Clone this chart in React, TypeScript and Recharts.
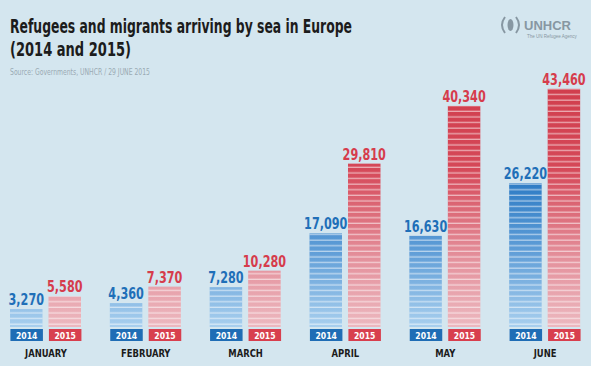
import React from 'react';
import { BarChart, Bar, XAxis, YAxis, LabelList } from 'recharts';

const months = ['JANUARY', 'FEBRUARY', 'MARCH', 'APRIL', 'MAY', 'JUNE'];
const arrivals2014 = [3270, 4360, 7280, 17090, 16630, 26220];
const arrivals2015 = [5580, 7370, 10280, 29810, 40340, 43460];
const years = ['2014', '2015'];

const chartData = months.map((m, i) => ({
  month: m,
  y2014: arrivals2014[i],
  y2015: arrivals2015[i],
}));

const BAR_SIZE = 32.5;
const BAR_GAP = 6;
const BLUE = '#1f6db5';
const RED = '#d83f4e';
const FONT = "'Liberation Sans Narrow', 'DejaVu Sans Condensed', 'Liberation Sans', sans-serif";

const fmt = (v: number) => v.toLocaleString('en-US');

const StripedBar = (fillId: string) => (props: any) => {
  const { x, y, width, height } = props;
  if (!height || height <= 0) return null;
  return (
    <g>
      <rect x={x} y={y} width={width} height={height} fill={`url(#${fillId})`} />
      <rect x={x} y={y} width={width} height={height} fill="url(#stripes)" />
    </g>
  );
};

// narrow the digits the way the poster's condensed face does
const ValueLabel = (color: string) => (props: any) => {
  const { x, y, width, value } = props;
  return (
    <text
      transform={`translate(${x + width / 2},${y - 4}) scale(0.78,1)`}
      textAnchor="middle"
      fill={color}
      fontFamily={FONT}
      fontWeight="bold"
      fontSize={16}
    >
      {fmt(value)}
    </text>
  );
};

const MonthTick = (props: any) => {
  const { x, y, payload } = props;
  const colors = [BLUE, RED];
  const starts = [x - BAR_GAP / 2 - BAR_SIZE, x + BAR_GAP / 2];
  return (
    <g>
      {years.map((yr, i) => (
        <g key={yr}>
          <rect x={starts[i]} y={y + 2} width={BAR_SIZE} height={12} fill={colors[i]} />
          <text
            transform={`translate(${starts[i] + BAR_SIZE / 2},${y + 11.8}) scale(0.9,1)`}
            textAnchor="middle"
            fill="#fff"
            fontFamily={FONT}
            fontWeight="bold"
            fontSize={9.5}
          >
            {yr}
          </text>
        </g>
      ))}
      <text
        transform={`translate(${x},${y + 30}) scale(0.85,1)`}
        textAnchor="middle"
        fill="#1b1b1b"
        fontFamily={FONT}
        fontWeight="bold"
        fontSize={11}
      >
        {payload.value}
      </text>
    </g>
  );
};

export default function App() {
  return (
    <div style={{ width: 591, height: 366, position: 'relative', overflow: 'hidden', background: '#d4e6ef' }}>
      <style>{`body{margin:0}`}</style>
      <div style={{ position: 'absolute', left: -4, top: 0 }}>
        <BarChart
          width={595}
          height={366}
          data={chartData}
          margin={{ top: 53, right: -4, bottom: 0, left: 0 }}
          barSize={BAR_SIZE}
          barGap={BAR_GAP}
        >
          <defs>
            <linearGradient id="grad2014" gradientUnits="userSpaceOnUse" x1="0" y1="53" x2="0" y2="327">
              <stop offset="0" stopColor="#1d62ad" />
              <stop offset="0.45" stopColor="#2a79c3" />
              <stop offset="0.72" stopColor="#5f9dd7" />
              <stop offset="1" stopColor="#a8cfee" />
            </linearGradient>
            <linearGradient id="grad2015" gradientUnits="userSpaceOnUse" x1="0" y1="53" x2="0" y2="327">
              <stop offset="0" stopColor="#cf3a49" />
              <stop offset="0.42" stopColor="#d54858" />
              <stop offset="0.75" stopColor="#e4919c" />
              <stop offset="1" stopColor="#ecb8bf" />
            </linearGradient>
            <pattern id="stripes" patternUnits="userSpaceOnUse" width={10} height={5.6}>
              <rect x={0} y={4.3} width={10} height={1.3} fill="#ffffff" fillOpacity={0.55} />
            </pattern>
          </defs>
          <XAxis
            dataKey="month"
            axisLine={false}
            tickLine={false}
            tickSize={0}
            tickMargin={0}
            height={39}
            interval={0}
            tick={<MonthTick />}
          />
          <YAxis hide domain={[0, 50000]} />
          <Bar dataKey="y2014" shape={StripedBar('grad2014')} isAnimationActive={false}>
            <LabelList dataKey="y2014" content={ValueLabel('#1f6fb8')} />
          </Bar>
          <Bar dataKey="y2015" shape={StripedBar('grad2015')} isAnimationActive={false}>
            <LabelList dataKey="y2015" content={ValueLabel('#d63c4c')} />
          </Bar>
        </BarChart>
      </div>
      <svg width={591} height={80} style={{ position: 'absolute', left: 0, top: 0, pointerEvents: 'none' }}>
        <text x={10} y={32.5} fontFamily={FONT} fontWeight="bold" fontSize={20} fill="#1c1c1c"
          textLength={342} lengthAdjust="spacingAndGlyphs">
          Refugees and migrants arriving by sea in Europe
        </text>
        <text x={10} y={56} fontFamily={FONT} fontWeight="bold" fontSize={20} fill="#1c1c1c"
          textLength={121} lengthAdjust="spacingAndGlyphs">
          (2014 and 2015)
        </text>
        <text x={10} y={75} fontFamily={FONT} fontSize={8} fill="#9aaab3"
          textLength={140} lengthAdjust="spacingAndGlyphs">
          Source: Governments, UNHCR / 29 JUNE 2015
        </text>
        <g fill="none" stroke="#8797a2" strokeWidth={2}>
          <path d="M505 17 Q499 25 505 33" />
          <path d="M516 17 Q522 25 516 33" />
        </g>
        <ellipse cx={510.5} cy={25} rx={3} ry={6} fill="#8797a2" />
        <text x={524} y={29.5} fontFamily="'Liberation Sans', sans-serif" fontWeight="bold" fontSize={13} fill="#8797a2">
          UNHCR
        </text>
        <text x={527} y={38} fontFamily="'Liberation Sans', sans-serif" fontSize={4.5} fill="#8797a2">
          The UN Refugee Agency
        </text>
      </svg>
    </div>
  );
}
